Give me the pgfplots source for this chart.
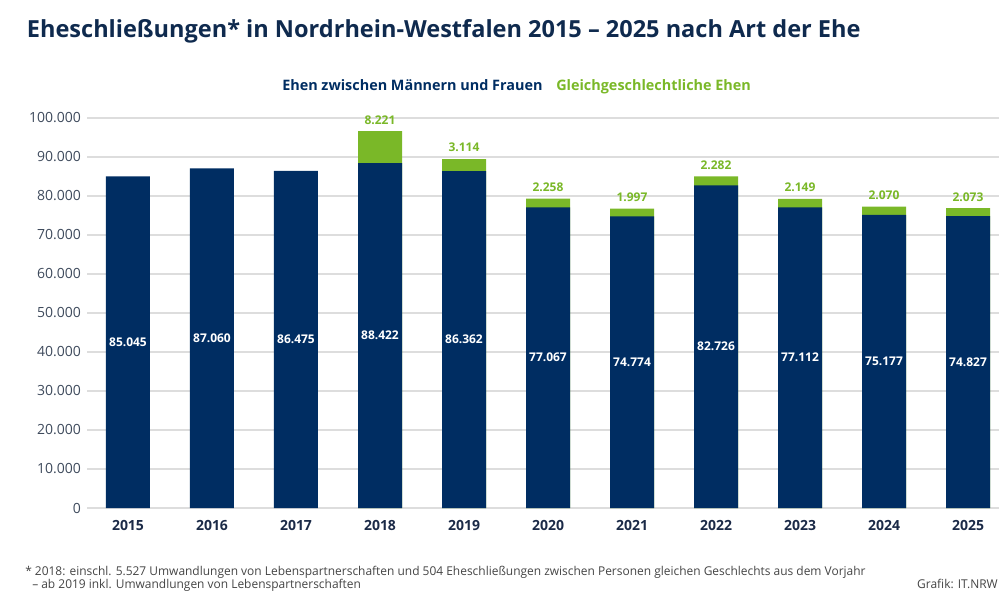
\documentclass[border=0pt]{standalone}
\usepackage{pgfplots}
\pgfplotsset{compat=1.18}
\usepackage{pgfplotstable}
\usepackage{fontspec}
\setmainfont{Open Sans}
\newfontfamily\condfont[FakeStretch=0.985]{Open Sans}
\definecolor{cnavy}{HTML}{002D62}
\definecolor{cgreen}{HTML}{7AB828}
\definecolor{ctitle}{HTML}{0F2A4E}
\definecolor{ctick}{HTML}{3E4A5C}
\definecolor{cyear}{HTML}{1B2A47}
\definecolor{cgrid}{HTML}{DDDDDD}
\definecolor{cfoot}{HTML}{444444}

\pgfplotstableread{
x m
0 85045
1 87060
2 86475
3 88422
4 86362
5 77067
6 74774
7 82726
8 77112
9 75177
10 74827
}\navydata

\pgfplotstableread{
x m g
3 88422 8221
4 86362 3114
5 77067 2258
6 74774 1997
7 82726 2282
8 77112 2149
9 75177 2070
10 74827 2073
}\greendata

\begin{document}
\begin{tikzpicture}
\useasboundingbox (0,0) rectangle (749.25pt,-450pt);
\node[anchor=base west, inner sep=0, text=ctitle, font=\bfseries\fontsize{17.65}{22}\selectfont] at (20pt,-27.75pt) {Eheschließungen* in Nordrhein-Westfalen 2015 – 2025 nach Art der Ehe};
\node[anchor=base west, inner sep=0, text=cnavy, font=\bfseries\fontsize{10.8}{12}\selectfont] at (211.5pt,-67.5pt) {Ehen zwischen Männern und Frauen};
\node[anchor=base west, inner sep=0, text=cgreen, font=\bfseries\fontsize{10.8}{12}\selectfont] at (417pt,-67.5pt) {Gleichgeschlechtliche Ehen};
\begin{axis}[
  at={(65.25pt,-381pt)}, anchor=south west,
  scale only axis, width=684pt, height=292.5pt,
  xmin=-0.488, xmax=10.369, ymin=0, ymax=100000,
  clip=false,
  axis line style={draw=none},
  tick style={draw=none},
  ymajorgrids, major grid style={color=cgrid, line width=0.9pt},
  ytick={0,10000,...,100000},
  scaled y ticks=false,
  xtick={0,...,10},
  xticklabels={2015,2016,2017,2018,2019,2020,2021,2022,2023,2024,2025},
  yticklabel style={text=ctick, font=\fontsize{10.5}{12}\selectfont, xshift=-1pt},
  xticklabel style={text=cyear, font=\bfseries\fontsize{10.5}{12}\selectfont, yshift=-5.75pt},
  /pgf/number format/fixed,
  /pgf/number format/precision=0,
  /pgf/number format/1000 sep={.},
  /pgf/number format/assume math mode=true,
]
\addplot[ybar, bar width=33pt, bar shift=0pt, fill=cgreen, draw=none,
  nodes near coords, point meta=\thisrow{g},
  every node near coord/.append style={text=cgreen, font=\bfseries\fontsize{9}{10}\selectfont, anchor=south, inner sep=0pt, yshift=5pt}]
  table[x=x, y expr=\thisrow{m}+\thisrow{g}] {\greendata};
\addplot[ybar, bar width=33pt, bar shift=0pt, fill=cnavy, draw=none]
  table[x=x, y=m] {\navydata};
\addplot[draw=none, mark=none, nodes near coords, point meta=\thisrow{m},
  every node near coord/.append style={text=white, font=\bfseries\fontsize{9}{10}\selectfont, anchor=center, inner sep=0pt}]
  table[x=x, y expr=\thisrow{m}/2] {\navydata};
\end{axis}
\node[anchor=base west, inner sep=0, text=cfoot, font=\condfont\fontsize{9.1}{10}\selectfont] at (18.75pt,-431.25pt) {* 2018: einschl. 5.527 Umwandlungen von Lebenspartnerschaften und 504 Eheschließungen zwischen Personen gleichen Geschlechts aus dem Vorjahr};
\node[anchor=base west, inner sep=0, text=cfoot, font=\condfont\fontsize{9.1}{10}\selectfont] at (24pt,-441pt) {– ab 2019 inkl. Umwandlungen von Lebenspartnerschaften};
\node[anchor=base east, inner sep=0, text=cfoot, font=\condfont\fontsize{9.1}{10}\selectfont] at (748.5pt,-441pt) {Grafik: IT.NRW};
\end{tikzpicture}
\end{document}
